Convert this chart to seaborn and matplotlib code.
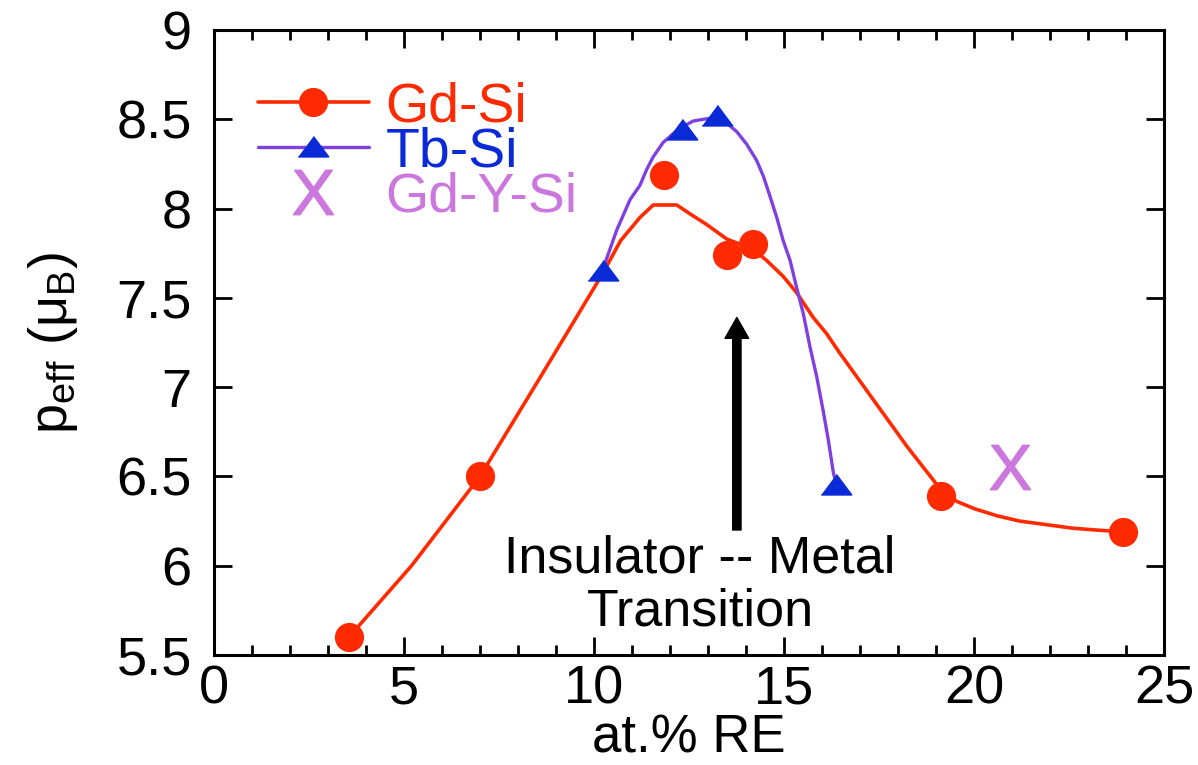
import matplotlib
matplotlib.use("Agg")
import matplotlib.pyplot as plt
from matplotlib.lines import Line2D
from matplotlib.ticker import MultipleLocator
import seaborn as sns
import pandas as pd

# ---- data ----
gd_x = [3.55, 7.0, 11.84, 13.5, 14.18, 19.13, 23.92]
gd_y = [5.60, 6.50, 8.19, 7.74, 7.80, 6.39, 6.19]

tb_x = [10.24, 12.32, 13.24, 16.37]
tb_y = [7.65, 8.44, 8.52, 6.45]

gdy_x = [20.95]
gdy_y = [6.55]

# fitted curves
gd_fit_x = [3.55, 5.2, 7.0, 8.6, 9.45, 10.24, 10.7, 11.21, 11.56, 12.18, 12.53, 12.97,
            13.49, 14.2, 14.54, 14.98, 15.33, 15.77, 16.12, 16.47, 16.91, 17.35, 17.79,
            18.23, 18.67, 18.93, 19.16, 19.55, 20.0, 20.6, 21.2, 21.9, 22.6, 23.2, 23.92]
gd_fit_y = [5.60, 6.00, 6.50, 7.06, 7.36, 7.64, 7.82, 7.95, 8.02, 8.02, 7.97, 7.91,
            7.83, 7.77, 7.71, 7.62, 7.53, 7.39, 7.30, 7.19, 7.06, 6.93, 6.80,
            6.67, 6.55, 6.48, 6.41, 6.36, 6.32, 6.28, 6.25, 6.23, 6.21, 6.20, 6.19]

tb_fit_x = [10.30, 10.6, 10.95, 11.21, 11.39, 11.56, 11.82, 12.09, 12.35, 12.61, 12.88,
            13.23, 13.49, 13.76, 14.02, 14.28, 14.46, 14.63, 14.81, 14.98, 15.16, 15.33,
            15.51, 15.68, 15.86, 16.03, 16.17, 16.25, 16.30, 16.35]
tb_fit_y = [7.70, 7.88, 8.05, 8.13, 8.22, 8.29, 8.37, 8.42, 8.46, 8.49, 8.50,
            8.51, 8.48, 8.43, 8.36, 8.27, 8.18, 8.07, 7.95, 7.82, 7.71, 7.56,
            7.41, 7.23, 7.06, 6.87, 6.70, 6.59, 6.52, 6.48]

labels = ["Gd-Si", "Tb-Si", "Gd-Y-Si"]
x_ticks = [0, 5, 10, 15, 20, 25]
y_ticks = [5.5, 6, 6.5, 7, 7.5, 8, 8.5, 9]
y_tick_labels = ["5.5", "6", "6.5", "7", "7.5", "8", "8.5", "9"]

RED = "#ff2a00"
PURPLE = "#8040e0"
BLUE = "#0a2ad8"
ORCHID = "#cc77dd"

sns.set_theme(style="white")
plt.rcParams["font.family"] = ["Liberation Sans", "DejaVu Sans"]
plt.rcParams["mathtext.fontset"] = "custom"
plt.rcParams["mathtext.rm"] = "Liberation Sans"
plt.rcParams["mathtext.it"] = "Liberation Sans"
plt.rcParams["mathtext.sf"] = "Liberation Sans"
plt.rcParams["text.color"] = "black"
plt.rcParams["axes.labelcolor"] = "black"
plt.rcParams["xtick.color"] = "black"
plt.rcParams["ytick.color"] = "black"

fig = plt.figure(figsize=(11.98, 7.65), dpi=100)
ax = fig.add_axes([0.1786, 0.1438, 0.7930, 0.8170])

fit_gd = pd.DataFrame({"x": gd_fit_x, "y": gd_fit_y})
fit_tb = pd.DataFrame({"x": tb_fit_x, "y": tb_fit_y})
sns.lineplot(data=fit_gd, x="x", y="y", ax=ax, color=RED, lw=2.6, sort=False,
             estimator=None, zorder=2)
sns.lineplot(data=fit_tb, x="x", y="y", ax=ax, color=PURPLE, lw=2.4, sort=False,
             estimator=None, zorder=2)

tri = [(-1, -0.62), (1, -0.62), (0, 0.72)]
ax.plot(gd_x, gd_y, ls="none", marker="o", ms=20, color=RED, mec=RED, zorder=3)
ax.plot(tb_x, tb_y, ls="none", marker=tri, ms=22, color=BLUE, mec=BLUE, zorder=3)
ax.plot(gdy_x, gdy_y, ls="none", marker=r"$\mathsf{X}$", ms=32, color=ORCHID,
        mec=ORCHID, zorder=3)

ax.set_xlim(0, 25)
ax.set_ylim(5.5, 9)
ax.set_xticks(x_ticks)
ax.set_yticks(y_ticks)
ax.set_xticklabels([str(t) for t in x_ticks])
ax.set_yticklabels(y_tick_labels)
ax.xaxis.set_minor_locator(MultipleLocator(1))

for s in ax.spines.values():
    s.set_color("black")
    s.set_linewidth(2.2)
ax.tick_params(which="both", direction="in", top=True, right=True, bottom=True, left=True,
               color="black", width=2.0, labelcolor="black")
ax.tick_params(which="major", length=13, labelsize=39)
ax.tick_params(which="minor", length=7)
ax.tick_params(axis="y", pad=16)
ax.tick_params(axis="x", pad=7)

ax.set_xlabel("at.% RE", fontsize=38, labelpad=-1, color="black")
ax.set_ylabel(r"p$_{\rm eff}$ (μ$_{\rm B}$)", fontsize=39, labelpad=26, color="black")

ax.annotate("", xy=(13.76, 7.39), xytext=(13.76, 6.20),
            arrowprops=dict(facecolor="black", edgecolor="black", width=6,
                            headwidth=17, headlength=15, shrink=0))
ax.text(12.79, 5.89, "Insulator -- Metal\nTransition", ha="center", va="center",
        fontsize=37.5, color="black", linespacing=1.1)

handles = [
    Line2D([], [], color=RED, lw=2.6, marker="o", ms=20, mec=RED),
    Line2D([], [], color=PURPLE, lw=2.4, marker=tri, ms=22, mfc=BLUE, mec=BLUE),
    Line2D([], [], ls="none", marker=r"$\mathsf{X}$", ms=32, color=ORCHID, mec=ORCHID),
]
leg = ax.legend(handles, labels, loc="upper left", bbox_to_anchor=(0.046, 0.918),
                frameon=False, fontsize=40, handlelength=2.0, handletextpad=0.3,
                labelspacing=-0.12, borderpad=0, borderaxespad=0)
for t, c in zip(leg.get_texts(), [RED, BLUE, ORCHID]):
    t.set_color(c)

fig.savefig("out.png", dpi=100)
